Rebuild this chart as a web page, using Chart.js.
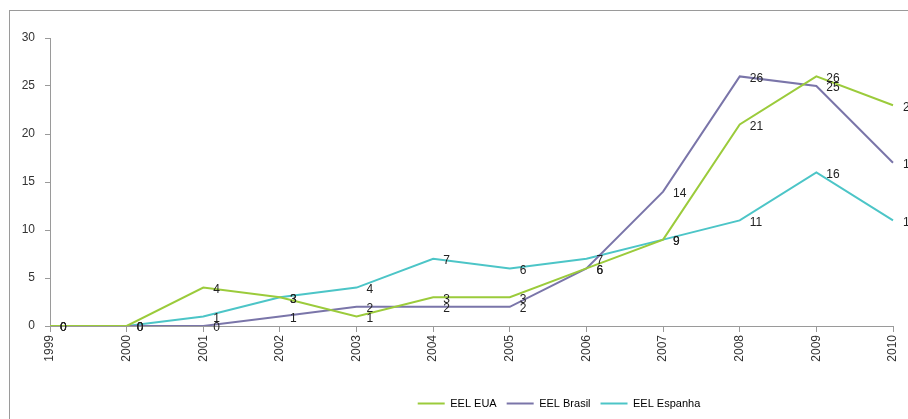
<!DOCTYPE html>
<html>
<head>
<meta charset="utf-8">
<script src="https://cdn.jsdelivr.net/npm/chart.js@4/dist/chart.umd.min.js"></script>
<style>
  html, body { margin: 0; padding: 0; background: #fff; }
  #grafico { display: block; }
</style>
</head>
<body>
<canvas id="grafico" width="908" height="419"></canvas>
<script>
const anos = ['1999', '2000', '2001', '2002', '2003', '2004', '2005', '2006', '2007', '2008', '2009', '2010']
const eelEua = [0, 0, 4, 3, 1, 3, 3, 6, 9, 21, 26, 23]
const eelBrasil = [0, 0, 0, 1, 2, 2, 2, 6, 14, 26, 25, 17]
const eelEspanha = [0, 0, 1, 3, 4, 7, 6, 7, 9, 11, 16, 11]

const corEua = '#9bcb3b'
const corBrasil = '#7a75a9'
const corEspanha = '#4cc5c7'
const cinza = '#9a9a9a'

// moldura cinza em volta do gráfico
const moldura = {
    id: 'moldura',
    beforeDraw(chart) {
        const ctx = chart.ctx
        ctx.save()
        ctx.strokeStyle = cinza
        ctx.lineWidth = 1
        ctx.strokeRect(9.5, 10.5, 1000, 1000)
        ctx.restore()
    },
}

// rótulos de valor à direita de cada ponto
const rotulos = {
    id: 'rotulos',
    afterDatasetsDraw(chart) {
        const ctx = chart.ctx
        ctx.save()
        ctx.font = '12px "Liberation Sans", Arial, sans-serif'
        ctx.fillStyle = '#222'
        ctx.textAlign = 'left'
        ctx.textBaseline = 'middle'
        chart.data.datasets.forEach((ds, i) => {
            chart.getDatasetMeta(i).data.forEach((pt, j) => {
                ctx.fillText(String(ds.data[j]), pt.x + 10, pt.y + 2)
            })
        })
        ctx.restore()
    },
}

// legenda deslocada para a direita
const posLegenda = {
    id: 'posLegenda',
    afterLayout(chart) {
        const l = chart.legend
        l.left += 108
        l.right += 108
    },
}

const linha = (label, data, cor) => ({
    label: label,
    data: data,
    borderColor: cor,
    backgroundColor: cor,
    borderWidth: 2,
    pointRadius: 0,
    tension: 0,
})

const config = {
    type: 'line',
    data: {
        labels: anos,
        datasets: [
            linha('EEL EUA', eelEua, corEua),
            linha('EEL Brasil', eelBrasil, corBrasil),
            linha('EEL Espanha', eelEspanha, corEspanha),
        ],
    },
    options: {
        responsive: false,
        animation: false,
        layout: { padding: { left: 9, top: 38, right: 15, bottom: 0 } },
        plugins: {
            tooltip: { enabled: false },
            legend: {
                position: 'bottom',
                labels: {
                    boxWidth: 27,
                    boxHeight: 2,
                    padding: 10,
                    color: '#333',
                    font: { family: '"Liberation Sans Narrow", "Liberation Sans", sans-serif', size: 11 },
                    generateLabels(chart) {
                        return chart.data.datasets.map((ds, i) => ({
                            text: ds.label,
                            fillStyle: ds.borderColor,
                            strokeStyle: ds.borderColor,
                            lineWidth: 0,
                            datasetIndex: i,
                        }))
                    },
                },
            },
        },
        scales: {
            x: {
                offset: false,
                afterFit(scale) {
                    scale.height = 62
                    scale.paddingLeft = 0
                    scale.paddingRight = 0
                },
                grid: { drawOnChartArea: false, color: cinza, tickLength: 6 },
                border: { color: cinza },
                ticks: {
                    minRotation: 90,
                    maxRotation: 90,
                    color: '#333',
                    padding: 3,
                    font: { family: '"Liberation Sans", Arial, sans-serif', size: 12 },
                },
            },
            y: {
                min: 0,
                max: 30,
                afterFit(scale) { scale.width = 41 },
                grid: { drawOnChartArea: false, color: cinza, tickLength: 5 },
                border: { color: cinza },
                ticks: {
                    stepSize: 5,
                    color: '#333',
                    padding: 10,
                    font: { family: '"Liberation Sans", Arial, sans-serif', size: 12 },
                },
            },
        },
    },
    plugins: [moldura, rotulos, posLegenda],
}

const grafico = new Chart(document.getElementById('grafico'), config)
</script>
</body>
</html>
